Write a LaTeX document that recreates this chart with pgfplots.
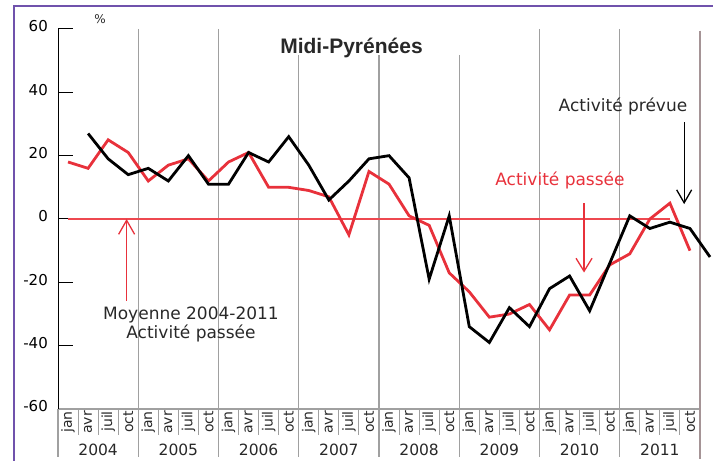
\documentclass[border=0pt]{standalone}
\usepackage{pgfplots}
\pgfplotsset{compat=1.18}
\usepackage{pgfplotstable}
\usepackage{fontspec}
\setmainfont{DejaVu Sans}
\newfontfamily\titlefont{Liberation Sans}
\usetikzlibrary{arrows.meta}
\definecolor{cred}{RGB}{232,49,59}
\definecolor{cmean}{RGB}{238,72,80}
\definecolor{cpurple}{RGB}{112,82,172}
\definecolor{cgrid}{RGB}{160,160,160}
\definecolor{cedge}{RGB}{165,148,150}
\definecolor{ctext}{RGB}{40,40,40}

\pgfplotstableread{
x y
0 18
1 16
2 25
3 21
4 12
5 17
6 19
7 12
8 18
9 21
10 10
11 10
12 9
13 7
14 -5
15 15
16 11
17 1
18 -2
19 -17
20 -23
21 -31
22 -30
23 -27
24 -35
25 -24
26 -24
27 -14.5
28 -11
29 0
30 5
31 -10
}\passee

\pgfplotstableread{
x y
1 27
2 19
3 14
4 16
5 12
6 20
7 11
8 11
9 21
10 18
11 26
12 17
13 6
14 12
15 19
16 20
17 13
18 -19
19 1
20 -34
21 -39
22 -28
23 -34
24 -22
25 -18
26 -29
27 -14
28 1
29 -3
30 -1
31 -3
32 -12
}\prevue

\begin{document}
\begin{tikzpicture}
\useasboundingbox (0,0) rectangle (713bp,461bp);
\draw[cpurple, line width=2bp] (13.5bp,0) -- (13.5bp,455bp) -- (713bp,455bp);
\begin{axis}[
  at={(58bp,52bp)}, anchor=south west,
  scale only axis, width=642bp, height=380bp,
  xmin=-0.5, xmax=31.5, ymin=-60, ymax=60,
  clip=false,
  axis x line*=bottom, axis y line*=left,
  x axis line style={cgrid, line width=1.2bp, -},
  y axis line style={black, line width=1bp, -},
  ytick={-60,-40,-20,0,20,40,60},
  yticklabels={-60,-40,-20,0,20,40,60},
  tick align=inside,
  major tick length=15bp,
  ytick style={black, line width=1bp},
  yticklabel style={font=\fontsize{15bp}{17bp}\selectfont, anchor=east, inner sep=0pt, xshift=-10bp, yshift=2.5bp, text=black},
  xtick={0,...,31},
  xticklabels={jan,avr,juil,oct,jan,avr,juil,oct,jan,avr,juil,oct,jan,avr,juil,oct,jan,avr,juil,oct,jan,avr,juil,oct,jan,avr,juil,oct,jan,avr,juil,oct},
  xtick style={draw=none},
  xticklabel style={rotate=90, anchor=east, inner sep=0pt, font=\fontsize{14bp}{16bp}\selectfont, text=ctext},
  xticklabel shift=2bp,
]
% vertical year lines in plot area
\draw[cgrid, line width=1.2bp] (axis cs:3.5,60) -- (axis cs:3.5,-60);
\draw[cgrid, line width=1.2bp] (axis cs:7.5,60) -- (axis cs:7.5,-60);
\draw[cgrid, line width=1.2bp] (axis cs:11.5,51.8) -- (axis cs:11.5,-60);
\draw[cgrid, line width=1.2bp] (axis cs:15.5,51.8) -- (axis cs:15.5,-60);
\draw[cgrid, line width=1.2bp] (axis cs:19.5,51.8) -- (axis cs:19.5,-60);
\draw[cgrid, line width=1.2bp] (axis cs:23.5,60) -- (axis cs:23.5,-60);
\draw[cgrid, line width=1.2bp] (axis cs:27.5,60) -- (axis cs:27.5,-60);
\draw[cedge, line width=1.2bp] (axis cs:31.5,59.5) -- (axis cs:31.5,-60);
% year separators below axis
\pgfplotsinvokeforeach{-0.5,3.5,7.5,11.5,15.5,19.5,23.5,27.5}{
  \draw[cgrid, line width=1.2bp] (axis cs:#1,-60) -- ++(0pt,-48bp);
}
\draw[cedge, line width=1.2bp] (axis cs:31.5,-60) -- ++(0pt,-50bp);
% month separators
\pgfplotsinvokeforeach{0.5,1.5,2.5,4.5,5.5,6.5,8.5,9.5,10.5,12.5,13.5,14.5,16.5,17.5,18.5,20.5,21.5,22.5,24.5,25.5,26.5,28.5,29.5,30.5}{
  \draw[cgrid, line width=1bp] (axis cs:#1,-60) -- ++(0pt,-26bp);
}
% year labels
\tikzset{yl/.style={anchor=base, yshift=-46bp, inner sep=0pt, font=\fontsize{15.5bp}{17bp}\selectfont, text=ctext}}
\node[yl] at (axis cs:1.5,-60) {2004};
\node[yl] at (axis cs:5.5,-60) {2005};
\node[yl] at (axis cs:9.5,-60) {2006};
\node[yl] at (axis cs:13.5,-60) {2007};
\node[yl] at (axis cs:17.5,-60) {2008};
\node[yl] at (axis cs:21.5,-60) {2009};
\node[yl] at (axis cs:25.5,-60) {2010};
\node[yl] at (axis cs:29.5,-60) {2011};
% mean line
\addplot[cmean, line width=2.8bp, forget plot] coordinates {(0,0) (30,0)};
% series
\addplot[cred, line width=2.8bp] table[x=x,y=y] {\passee};
\addplot[black, line width=2.8bp] table[x=x,y=y] {\prevue};
% arrows
\draw[cred, line width=1.3bp, -{Straight Barb[length=14bp, width=16bp]}] (axis cs:2.92,-25.8) -- (axis cs:2.92,0);
\draw[cred, line width=1.3bp, -{Straight Barb[length=13bp, width=16bp]}] (axis cs:25.72,5.05) -- (axis cs:25.72,-16.9);
\draw[black, line width=1.3bp, -{Straight Barb[length=13bp, width=15bp]}] (axis cs:30.71,30.6) -- (axis cs:30.71,4.7);
\end{axis}
% texts
\node[anchor=base, font=\titlefont\bfseries\fontsize{21bp}{23bp}\selectfont, text=ctext] at (351.5bp,407.7bp) {Midi-Pyrénées};
\node[anchor=base, font=\fontsize{12bp}{14bp}\selectfont, text=ctext] at (100bp,437bp) {\%};
\node[anchor=base, font=\fontsize{17bp}{19bp}\selectfont, text=ctext] at (623bp,349.3bp) {Activité prévue};
\node[anchor=base, font=\fontsize{17bp}{19bp}\selectfont, text=cred] at (560bp,275bp) {Activité passée};
\node[anchor=base, font=\fontsize{17bp}{19bp}\selectfont, text=ctext] at (191bp,141.7bp) {Moyenne 2004-2011};
\node[anchor=base, font=\fontsize{17bp}{19bp}\selectfont, text=ctext] at (191bp,122bp) {Activité passée};
\end{tikzpicture}
\end{document}
